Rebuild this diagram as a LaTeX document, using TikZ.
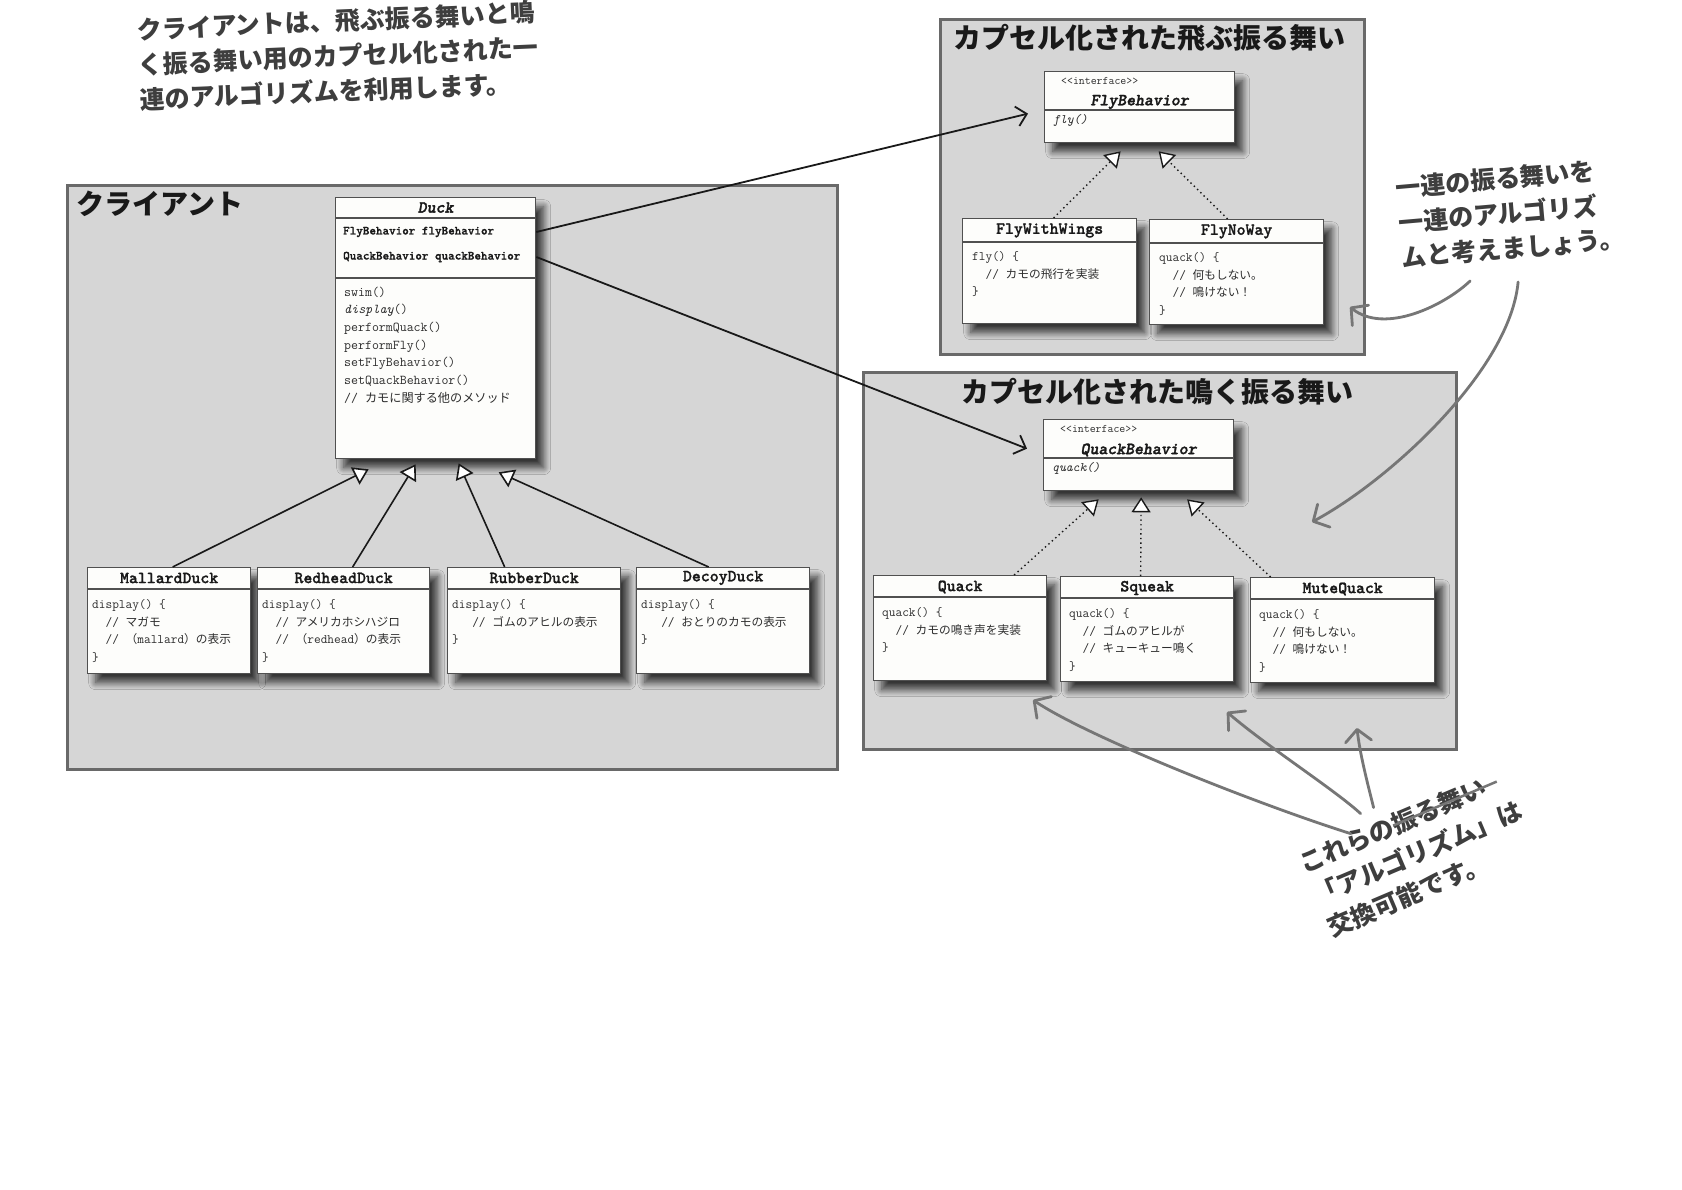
\documentclass[tikz,border=0pt]{standalone}
\usepackage{fontspec}
\usepackage{xcolor}
\usepackage{tikz}
\usetikzlibrary{arrows.meta, shadows.blur}
\newfontfamily\jpfont{Noto Sans CJK JP}
\newfontfamily\jpcode{Noto Sans CJK JP}[Scale=0.9]
\newfontfamily\monobold{lmmonolt10-bold.otf}[FakeBold=1.2]
\newfontfamily\monoboldsl{lmmonolt10-boldoblique.otf}[FakeBold=1.8]
\newcommand\jpt[1]{{\jpcode #1}}
\newcommand\codefont{\ttfamily\fontsize{13}{17.6}\selectfont}
\definecolor{panelgray}{RGB}{214,214,214}
\definecolor{framegray}{RGB}{105,105,105}
\definecolor{boxline}{RGB}{80,80,80}
\definecolor{pengray}{RGB}{118,118,118}
\definecolor{notegray}{RGB}{62,62,62}
\definecolor{inkblack}{RGB}{25,25,25}
\definecolor{codegray}{RGB}{45,45,45}
\definecolor{paperwhite}{RGB}{253,253,251}
\newcommand\penstrike[1]{\setbox0=\hbox{#1}\rlap{\copy0}%
  \rlap{\textcolor{pengray}{\rule[0.33em]{\dimexpr\wd0+0.5em\relax}{2.5pt}}}\kern\wd0}

\begin{document}
\begin{tikzpicture}[x=1pt,y=-1pt,
  panel/.style={draw=framegray,line width=2.6pt,fill=panelgray,anchor=north west,inner sep=0pt},
  paneltitle/.style={font=\jpfont\bfseries\fontsize{28}{30}\selectfont,text=inkblack,inner sep=0pt},
  classbox/.style={draw=boxline,line width=1.3pt,fill=paperwhite,anchor=north west,inner sep=0pt,
                   blur shadow={shadow xshift=8pt,shadow yshift=-9pt,shadow blur radius=7pt,shadow blur steps=10,shadow opacity=75}},
  divider/.style={draw=boxline,line width=1.2pt},
  cname/.style={font=\monobold\fontsize{17}{17}\selectfont,text=inkblack,inner sep=0pt},
  iname/.style={font=\monoboldsl\fontsize{17}{17}\selectfont,text=inkblack,inner sep=0pt},
  codetext/.style={font=\codefont,text=codegray,align=left,anchor=north west,inner sep=0pt},
  attrtext/.style={font=\monobold\fontsize{12.5}{15}\selectfont,text=inkblack,anchor=west,inner sep=0pt},
  stereo/.style={font=\ttfamily\fontsize{11.5}{12}\selectfont,text=codegray,anchor=west,inner sep=0pt},
  handnote/.style={font=\jpfont\bfseries\fontsize{25}{35}\selectfont,text=notegray,align=left,inner sep=0pt},
  usesarrow/.style={draw=inkblack,line width=1.8pt,-{Straight Barb[length=10pt,width=20pt]}},
  inheritarrow/.style={draw=inkblack,line width=1.6pt,-{Triangle[length=15pt,width=19pt,fill=white]}},
  realizearrow/.style={inheritarrow,line width=1.4pt,dash pattern=on 1.4pt off 3.2pt},
  penarrow/.style={draw=pengray,line width=2.8pt,line cap=round,-{Straight Barb[length=12pt,width=26pt,round]}}
]
\fill[white] (0,0) rectangle (1682,1190);
\useasboundingbox (0,0) rectangle (1682,1190);

% Panels
\node[panel,minimum width=770pt,minimum height=584pt] (client) at (66,184) {};
\node[panel,minimum width=424pt,minimum height=335pt] (flypanel) at (939,18) {};
\node[panel,minimum width=593pt,minimum height=377pt] (quackpanel) at (862,371) {};
\node[paneltitle,anchor=west] (clienttitle) at ([xshift=10pt,yshift=-20pt]client.north west) {クライアント};
\node[paneltitle] (flytitle) at ([xshift=-3pt,yshift=-20pt]flypanel.north) {カプセル化された飛ぶ振る舞い};
\node[paneltitle] (quacktitle) at ([xshift=-2pt,yshift=-21pt]quackpanel.north) {カプセル化された鳴く振る舞い};

% Duck
\node[classbox,minimum width=200pt,minimum height=261pt] (duck) at (335,197) {};
\draw[divider] ([yshift=-21pt]duck.north west) -- ([yshift=-21pt]duck.north east);
\draw[divider] ([yshift=-81pt]duck.north west) -- ([yshift=-81pt]duck.north east);
\node[iname] (duckname) at ([yshift=-10.5pt]duck.north) {Duck};
\node[attrtext] (flyattr) at ([xshift=8pt,yshift=-35pt]duck.north west) {FlyBehavior flyBehavior};
\node[attrtext] (quackattr) at ([xshift=8pt,yshift=-60pt]duck.north west) {QuackBehavior quackBehavior};
\node[codetext,font=\ttfamily\fontsize{13.5}{17.7}\selectfont] (duckops)
  at ([xshift=9pt,yshift=-89.5pt]duck.north west)
  {swim()\\{\itshape display}()\\performQuack()\\performFly()\\setFlyBehavior()\\setQuackBehavior()\\//~\jpt{カモに関する他のメソッド}};

% Duck subclasses
\foreach \id/\x/\w/\cls/\codebody in {
  mallard/87/163/MallardDuck/{display() \{\\~~//~\jpt{マガモ}\\~~//~\jpt{（}mallard\jpt{）の表示}\\\}},
  redhead/257/172/RedheadDuck/{display() \{\\~~//~\jpt{アメリカホシハジロ}\\~~//~\jpt{（}redhead\jpt{）の表示}\\\}},
  rubber/447/173/RubberDuck/{display() \{\\~~~//~\jpt{ゴムのアヒルの表示}\\\}},
  decoy/636/173/DecoyDuck/{display() \{\\~~~//~\jpt{おとりのカモの表示}\\\}}} {
  \node[classbox,minimum width=\w pt,minimum height=106pt] (\id) at (\x,567) {};
  \draw[divider] ([yshift=-22pt]\id.north west) -- ([yshift=-22pt]\id.north east);
  \node[cname] at ([yshift=-11pt]\id.north) {\cls};
  \node[codetext] at ([xshift=5pt,yshift=-32.5pt]\id.north west) {\codebody};
}

% Interfaces
\node[classbox,minimum width=190pt,minimum height=71pt] (flybeh) at (1044,71) {};
\node[classbox,minimum width=190pt,minimum height=71pt] (quackbeh) at (1043,419) {};
\foreach \id/\cls/\op in {flybeh/FlyBehavior/fly(), quackbeh/QuackBehavior/quack()} {
  \draw[divider] ([yshift=-39pt]\id.north west) -- ([yshift=-39pt]\id.north east);
  \node[stereo] at ([xshift=17pt,yshift=-10pt]\id.north west) {<\kern0pt<interface>\kern0pt>};
  \node[iname] at ([yshift=-31pt]\id.north) {\cls};
  \node[codetext,anchor=west] at ([xshift=9pt,yshift=-49pt]\id.north west) {\itshape\op};
}

% Fly behaviours
\foreach \id/\x/\y/\cls/\codebody in {
  flywings/962/218/FlyWithWings/{fly() \{\\~~//~\jpt{カモの飛行を実装}\\\}},
  flynoway/1149/219/FlyNoWay/{quack() \{\\~~//~\jpt{何もしない。}\\~~//~\jpt{鳴けない！}\\\}}} {
  \node[classbox,minimum width=174pt,minimum height=105pt] (\id) at (\x,\y) {};
  \draw[divider] ([yshift=-24pt]\id.north west) -- ([yshift=-24pt]\id.north east);
  \node[cname] at ([yshift=-12.5pt]\id.north) {\cls};
  \node[codetext] at ([xshift=10pt,yshift=-33.5pt]\id.north west) {\codebody};
}

% Quack behaviours
\foreach \id/\x/\y/\w/\cls/\codebody in {
  quackimpl/873/575/173/Quack/{quack() \{\\~~//~\jpt{カモの鳴き声を実装}\\\}},
  squeak/1060/576/173/Squeak/{quack() \{\\~~//~\jpt{ゴムのアヒルが}\\~~//~\jpt{キューキュー鳴く}\\\}},
  mutequack/1250/577/184/MuteQuack/{quack() \{\\~~//~\jpt{何もしない。}\\~~//~\jpt{鳴けない！}\\\}}} {
  \node[classbox,minimum width=\w pt,minimum height=105pt] (\id) at (\x,\y) {};
  \draw[divider] ([yshift=-22pt]\id.north west) -- ([yshift=-22pt]\id.north east);
  \node[cname] at ([yshift=-12pt]\id.north) {\cls};
  \node[codetext] at ([xshift=9pt,yshift=-32.5pt]\id.north west) {\codebody};
}

% Has-a arrows
\draw[usesarrow] (duck.east |- flyattr) -- ([xshift=-16pt,yshift=-6.5pt]flybeh.west);
\draw[usesarrow] (duck.east |- quackattr) -- ([xshift=-16pt,yshift=6.5pt]quackbeh.west);

% Inheritance
\draw[inheritarrow] ([xshift=3.5pt]mallard.north) -- ([xshift=-67pt,yshift=-10pt]duck.south);
\draw[inheritarrow] ([xshift=9pt]redhead.north) -- ([xshift=-20pt,yshift=-5pt]duck.south);
\draw[inheritarrow] ([xshift=-29.5pt]rubber.north) -- ([xshift=23pt,yshift=-4pt]duck.south);
\draw[inheritarrow] ([xshift=-14.5pt]decoy.north) -- ([xshift=63pt,yshift=-13pt]duck.south);

% Implementations
\draw[realizearrow] ([xshift=4pt]flywings.north) -- ([xshift=-19pt,yshift=-8pt]flybeh.south);
\draw[realizearrow] ([xshift=-9pt]flynoway.north) -- ([xshift=19pt,yshift=-8pt]flybeh.south);
\draw[realizearrow] ([xshift=54pt]quackimpl.north) -- ([xshift=-40pt,yshift=-8pt]quackbeh.south);
\draw[realizearrow] ([xshift=-6.5pt]squeak.north) -- ([xshift=2.5pt,yshift=-6pt]quackbeh.south);
\draw[realizearrow] ([xshift=-72pt]mutequack.north) -- ([xshift=48.5pt,yshift=-8pt]quackbeh.south);

% Hand notes
\node[handnote,rotate=2.5] (clientnote) at (338,56)
  {クライアントは、飛ぶ振る舞いと鳴\\く振る舞い用のカプセル化された一\\連のアルゴリズムを利用します。};
\node[handnote,rotate=5] (algnote) at (1510,213)
  {一連の振る舞いを\\一連のアルゴリズ\\ムと考えましょう。};
\node[handnote,rotate=23] (swapnote) at (1418,853)
  {これらの\penstrike{振る舞い}\\「アルゴリズム」は\\交換可能です。};

\coordinate (flyhint) at (1350,307);
\coordinate (quackhint) at (1312,522);
\coordinate (quacktip) at (1033,700);
\coordinate (squeaktip) at (1227,712);
\coordinate (mutetip) at (1357,728);

\draw[penarrow] ([xshift=-44pt,yshift=-21pt]algnote.south) .. controls (1445,305) and (1385,335) .. (flyhint);
\draw[penarrow] ([xshift=4pt,yshift=-22pt]algnote.south) .. controls (1510,370) and (1390,480) .. (quackhint);
\draw[penarrow] ([xshift=-49pt,yshift=-24pt]swapnote.north) .. controls (1260,805) and (1090,738) .. (quacktip);
\draw[penarrow] ([xshift=-39pt,yshift=-4pt]swapnote.north) .. controls (1335,790) and (1265,745) .. (squeaktip);
\draw[penarrow] ([xshift=-26pt,yshift=2pt]swapnote.north) .. controls (1368,785) and (1360,755) .. (mutetip);

\end{tikzpicture}
\end{document}
